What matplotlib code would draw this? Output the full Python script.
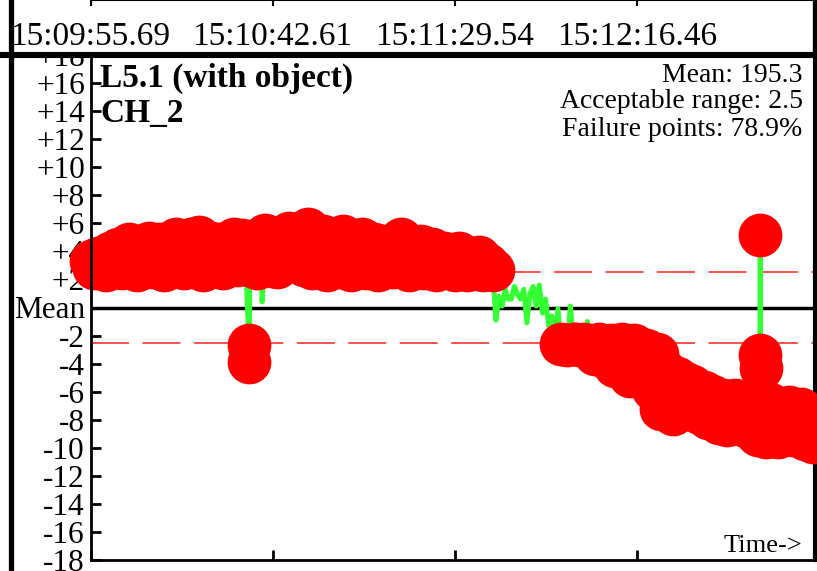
import numpy as np
import matplotlib
matplotlib.use('Agg')
import matplotlib.pyplot as plt
from matplotlib.lines import Line2D
from matplotlib.transforms import blended_transform_factory

plt.rcParams['font.family'] = ['Liberation Serif', 'DejaVu Serif']

# Channel info shown in the panel
title_lines = ['L5.1 (with object)', 'CH_2']
mean_value = 195.3
accept_range = 2.5
failure_pct = 78.9

# Time axis: seconds from the first sample and the clock labels
tick_secs = [0.0, 46.92, 93.85, 140.77]
tick_labels = ['15:09:55.69', '15:10:42.61', '15:11:29.54', '15:12:16.46']
t_end = 186.6

# Deviation from the mean, one sample per second (t = 0 .. 103)
dev_early = [
    3.3, 2.8, 3.5, 3.0, 2.7, 3.9, 3.2, 4.2, 2.8, 3.6,
    4.5, 3.1, 2.7, 4.1, 3.4, 4.6, 2.9, 3.8, 4.5, 2.7,
    3.3, 4.2, 4.9, 3.0, 2.8, 4.4, 4.9, 3.5, 5.0, 2.7,
    3.9, 4.6, 3.1, 4.5, 2.8, 4.2, 3.6, 4.9, 3.0, 4.8,
    3.2, 3.0, 3.4, 2.8, 3.9, 5.2, 3.0, 4.4, 2.9, 4.8,
    3.7, 5.3, 3.6, 4.6, 3.9, 3.0, 5.6, 2.8, 4.3, 3.2,
    5.1, 2.7, 3.9, 4.8, 2.9, 5.1, 3.5, 2.7, 4.4, 3.1,
    4.9, 2.8, 3.7, 4.5, 2.7, 4.4, 3.3, 4.3, 2.9, 3.6,
    4.9, 3.0, 2.7, 4.2, 3.4, 4.4, 2.8, 3.8, 4.2, 2.7,
    3.3, 3.9, 2.9, 3.6, 2.7, 3.9, 3.2, 2.7, 3.5, 2.9,
    3.6, 2.7, 3.1, 2.8,
]
# Drift back through the acceptable band (t = 103.6 .. 124.4, every 0.8 s)
dev_drift = [
    2.7, -0.9, 0.8, 0.1, 1.3, 0.6, 0.6, 1.5, 0.9, 0.6,
    1.3, -1.1, 1.0, 1.5, 0.1, 1.6, -0.4, 0.6, -1.3, -0.6,
    -2.3, -0.1, -2.6, -1.3, -2.7, 0.1, -2.6,
]
# Falling tail (t = 125 .. 186)
dev_late = [
    -2.6, -2.7, -2.6, -1.0, -2.9, -3.3, -2.6, -3.0, -3.6, -2.7,
    -4.2, -3.1, -2.6, -3.8, -4.9, -2.7, -3.4, -4.6, -3.0, -4.1,
    -5.8, -3.3, -7.2, -4.5, -6.0, -7.6, -5.0, -6.6, -5.4, -7.2,
    -5.6, -6.8, -7.5, -6.0, -7.9, -6.3, -7.4, -8.2, -6.6, -8.4,
    -7.0, -6.6, -8.0, -8.4, -6.8, -7.6, -8.8, -9.1, -7.2, -9.2,
    -6.9, -8.3, -9.2, -7.5, -8.8, -7.1, -9.1, -8.0, -7.2, -9.4,
    -8.6, -9.6,
]
# Single-sample glitches
glitch_t = [40.8, 40.9, 44.2, 172.4, 172.5, 172.6]
glitch_dev = [-2.7, -3.9, 0.4, -3.4, 5.2, -4.3]

t = np.concatenate([
    np.arange(len(dev_early), dtype=float),
    103.6 + 0.8 * np.arange(len(dev_drift)),
    125.0 + np.arange(len(dev_late)),
    glitch_t,
])
dev = np.concatenate([dev_early, dev_drift, dev_late, glitch_dev])
order = np.argsort(t, kind='stable')
t, dev = t[order], dev[order]
fail = np.abs(dev) > accept_range

# Layout (pixel positions of the panel in an 817x571 canvas)
W, H = 817, 571
L, R = 90.5 / W, 815 / W
B, T = (H - 560) / H, (H - 55) / H

fig = plt.figure(figsize=(W / 100, H / 100), dpi=100)
ax = fig.add_axes([L, B, R - L, T - B])
ax.set_facecolor('none')
ax.set_xlim(0, t_end)
ax.set_ylim(-18, 18)

ax.axhline(accept_range, color='red', alpha=0.75, lw=1.3, ls=(0, (21, 7.5)), zorder=1)
ax.axhline(-accept_range, color='red', alpha=0.75, lw=1.3, ls=(0, (21, 7.5)), zorder=1)
ax.axhline(0, color='black', lw=2.5, zorder=1.5)
ax.plot(t, dev, color='#33ff33', lw=3.6, zorder=2, solid_joinstyle='round')
ax.plot(t[fail], dev[fail], 'o', ms=31.5, color='red', mew=0, zorder=3, clip_on=False)

yt = list(range(-18, 19, 2))
ylab = ['Mean' if v == 0 else ('+%d' % v if v > 0 else '-%d' % -v) for v in yt]
ax.set_yticks(yt)
ax.set_yticklabels(ylab)
ax.set_xticks(tick_secs)
ax.tick_params(axis='y', direction='in', length=7, width=2, labelsize=22.5, pad=4)
ax.tick_params(axis='x', direction='in', length=7, width=2, labelbottom=False)

ax.spines['top'].set_visible(False)
ax.spines['left'].set_linewidth(2)
ax.spines['left'].set_zorder(4)
ax.spines['bottom'].set_linewidth(2)
ax.spines['right'].set_linewidth(3)

ax.text(0.013, 0.954, title_lines[0], transform=ax.transAxes, fontsize=24,
        fontweight='bold', ha='left', va='center')
ax.text(0.013, 0.885, title_lines[1], transform=ax.transAxes, fontsize=24,
        fontweight='bold', ha='left', va='center')
ax.text(0.983, 0.960, 'Mean: %.1f' % mean_value, transform=ax.transAxes,
        fontsize=20, ha='right', va='center')
ax.text(0.983, 0.907, 'Acceptable range: %.1f' % accept_range, transform=ax.transAxes,
        fontsize=20, ha='right', va='center')
ax.text(0.983, 0.853, 'Failure points: %.1f%%' % failure_pct, transform=ax.transAxes,
        fontsize=20, ha='right', va='center')
ax.text(0.983, 0.028, 'Time->', transform=ax.transAxes, fontsize=19,
        ha='right', va='center')

# Time label strip above the panel
band = fig.add_axes([0, (H - 52) / H, 1, 52 / H], zorder=2)
band.set_facecolor('white')
scale = t_end / (R - L)
band.set_xlim(-L * scale, (1 - L) * scale)
band.set_ylim(0, 1)
for side in ['left', 'bottom']:
    band.spines[side].set_visible(False)
band.spines['top'].set_linewidth(1.5)
band.spines['top'].set_bounds(0, (1 - L) * scale)
band.spines['right'].set_linewidth(6)
band.set_yticks([])
band.xaxis.set_ticks_position('top')
band.set_xticks(tick_secs)
band.tick_params(axis='x', direction='in', length=4, width=1.5, labeltop=False)
tr = blended_transform_factory(band.transData, band.transAxes)
for ts, lab in zip(tick_secs, tick_labels):
    band.text(ts, 0.29, lab, transform=tr, fontsize=24, ha='center', va='center')

# Panel frame lines
fig.lines.append(Line2D([0, 1], [T, T], transform=fig.transFigure, color='black',
                        lw=4.4, zorder=10))
fig.lines.append(Line2D([10.5 / W, 10.5 / W], [0, 1], transform=fig.transFigure,
                        color='black', lw=3.8, zorder=10))

fig.savefig('out.png', dpi=100)
